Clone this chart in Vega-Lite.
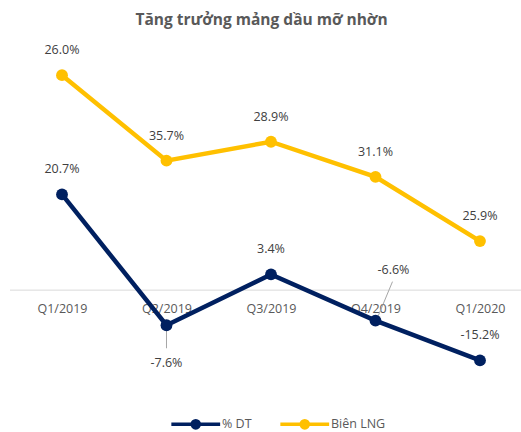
{
  "$schema": "https://vega.github.io/schema/vega-lite/v6.json",
  "width": 511,
  "height": 350,
  "autosize": {"type": "none"},
  "padding": {"left": 10, "top": 40, "right": 0, "bottom": 42},
  "background": "white",
  "title": {"text": "Tăng trưởng mảng dầu mỡ nhờn", "font": "Open Sans", "fontSize": 15.5, "fontWeight": "bold", "color": "#595959", "anchor": "middle", "offset": 12, "dx": -4},
  "data": {
    "values": [
      {"q": "Q1/2019", "series": "% DT", "value": 20.7, "label": "20.7%"},
      {"q": "Q2/2019", "series": "% DT", "value": -7.6, "label": "-7.6%"},
      {"q": "Q3/2019", "series": "% DT", "value": 3.4, "label": "3.4%"},
      {"q": "Q4/2019", "series": "% DT", "value": -6.6, "label": "-6.6%"},
      {"q": "Q1/2020", "series": "% DT", "value": -15.2, "label": "-15.2%"},
      {"q": "Q1/2019", "series": "Biên LNG", "value": 46.5, "label": "26.0%"},
      {"q": "Q2/2019", "series": "Biên LNG", "value": 28.0, "label": "35.7%"},
      {"q": "Q3/2019", "series": "Biên LNG", "value": 32.1, "label": "28.9%"},
      {"q": "Q4/2019", "series": "Biên LNG", "value": 24.5, "label": "31.1%"},
      {"q": "Q1/2020", "series": "Biên LNG", "value": 10.6, "label": "25.9%"}
    ]
  },
  "layer": [
    {
      "transform": [{"filter": "datum.q == 'Q1/2019' && datum.series == '% DT'"}],
      "mark": {"type": "rule", "color": "#d9d9d9", "strokeWidth": 1},
      "encoding": {
        "y": {"datum": 0, "type": "quantitative", "scale": {"domain": [-21.6, 54.1], "nice": false, "zero": false}, "axis": null}
      }
    },
    {
      "transform": [{"filter": "datum.q == 'Q2/2019' && datum.series == '% DT'"}],
      "mark": {"type": "rule", "color": "#a6a6a6", "strokeWidth": 1, "yOffset": 4, "y2Offset": 23},
      "encoding": {
        "x": {"field": "q", "type": "ordinal", "sort": ["Q1/2019", "Q2/2019", "Q3/2019", "Q4/2019", "Q1/2020"], "scale": {"type": "point", "padding": 0.445, "align": 0.559}},
        "y": {"field": "value", "type": "quantitative"},
        "y2": {"field": "value"}
      }
    },
    {
      "transform": [{"filter": "datum.q == 'Q4/2019' && datum.series == '% DT'"}],
      "mark": {"type": "rule", "color": "#a6a6a6", "strokeWidth": 1, "xOffset": 2, "yOffset": -3, "x2Offset": 17, "y2Offset": -39},
      "encoding": {
        "x": {"field": "q", "type": "ordinal", "sort": ["Q1/2019", "Q2/2019", "Q3/2019", "Q4/2019", "Q1/2020"], "scale": {"type": "point", "padding": 0.445, "align": 0.559}},
        "x2": {"field": "q"},
        "y": {"field": "value", "type": "quantitative"},
        "y2": {"field": "value"}
      }
    },
    {
      "mark": {"type": "line", "strokeWidth": 4.5, "point": {"filled": true, "size": 140, "opacity": 1}},
      "encoding": {
        "x": {
          "field": "q", "type": "ordinal",
          "sort": ["Q1/2019", "Q2/2019", "Q3/2019", "Q4/2019", "Q1/2020"],
          "scale": {"type": "point", "padding": 0.445, "align": 0.559},
          "axis": {"title": null, "domain": false, "ticks": false, "grid": false, "labelAngle": 0, "labelAlign": "center", "labelBaseline": "top", "offset": -100, "labelPadding": 12, "labelFont": "Open Sans", "labelFontSize": 12.5, "labelColor": "#595959"}
        },
        "y": {"field": "value", "type": "quantitative"},
        "color": {
          "field": "series", "type": "nominal",
          "scale": {"domain": ["% DT", "Biên LNG"], "range": ["#002060", "#FFC000"]},
          "legend": {
            "orient": "none", "legendX": 179.5, "legendY": 378, "direction": "horizontal", "title": null,
            "symbolType": "M-6.1,0H6.1M-0.9,0A0.9,0.9,0,1,1,0.9,0A0.9,0.9,0,1,1,-0.9,0Z",
            "symbolSize": 64, "symbolStrokeWidth": 3.5, "symbolOpacity": 1,
            "labelFont": "Open Sans", "labelFontSize": 12.5, "labelColor": "#595959", "labelOffset": 20,
            "columnPadding": 20, "padding": 0,
            "encode": {"symbols": {"update": {"fill": {"scale": "color", "field": "value"}, "stroke": {"scale": "color", "field": "value"}}}}
          }
        }
      }
    },
    {
      "transform": [{"filter": "!((datum.q == 'Q2/2019' || datum.q == 'Q4/2019') && datum.series == '% DT')"}],
      "mark": {"type": "text", "font": "Open Sans", "fontSize": 12.5, "color": "#404040", "dy": -25},
      "encoding": {
        "x": {"field": "q", "type": "ordinal", "sort": ["Q1/2019", "Q2/2019", "Q3/2019", "Q4/2019", "Q1/2020"], "scale": {"type": "point", "padding": 0.445, "align": 0.559}},
        "y": {"field": "value", "type": "quantitative"},
        "text": {"field": "label"}
      }
    },
    {
      "transform": [{"filter": "datum.q == 'Q2/2019' && datum.series == '% DT'"}],
      "mark": {"type": "text", "font": "Open Sans", "fontSize": 12.5, "color": "#404040", "dy": 38},
      "encoding": {
        "x": {"field": "q", "type": "ordinal", "sort": ["Q1/2019", "Q2/2019", "Q3/2019", "Q4/2019", "Q1/2020"], "scale": {"type": "point", "padding": 0.445, "align": 0.559}},
        "y": {"field": "value", "type": "quantitative"},
        "text": {"field": "label"}
      }
    },
    {
      "transform": [{"filter": "datum.q == 'Q4/2019' && datum.series == '% DT'"}],
      "mark": {"type": "text", "font": "Open Sans", "fontSize": 12.5, "color": "#404040", "dy": -51, "dx": 18},
      "encoding": {
        "x": {"field": "q", "type": "ordinal", "sort": ["Q1/2019", "Q2/2019", "Q3/2019", "Q4/2019", "Q1/2020"], "scale": {"type": "point", "padding": 0.445, "align": 0.559}},
        "y": {"field": "value", "type": "quantitative"},
        "text": {"field": "label"}
      }
    }
  ],
  "config": {"view": {"stroke": null}}
}
